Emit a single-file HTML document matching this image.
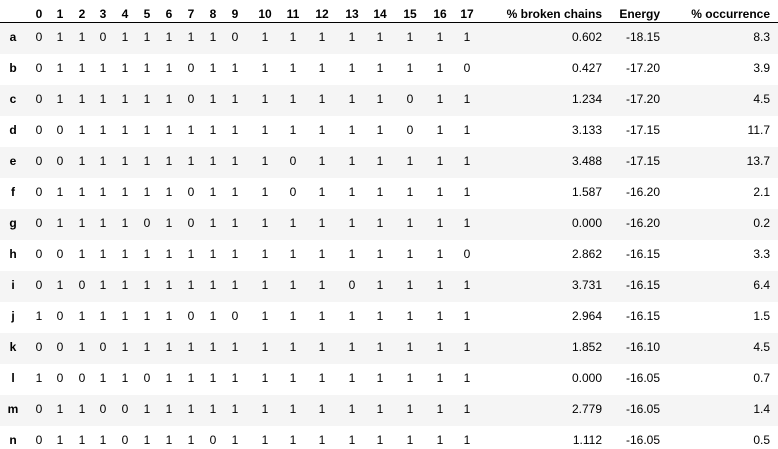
<!DOCTYPE html>
<html><head><meta charset="utf-8">
<style>
html,body{margin:0;padding:0;background:#fff;}
#tbl{position:relative;width:778px;height:449px;overflow:hidden;font-family:"Liberation Sans",Arial,sans-serif;font-size:12px;color:#000;}
.c{position:absolute;white-space:nowrap;line-height:14px;}
.h{font-weight:bold;}
.stripe{position:absolute;left:0;width:778px;height:31px;background:#f5f5f5;}
.rule{position:absolute;left:0;top:22px;width:778px;height:1px;background:#000;}
</style></head>
<body>
<div id="tbl">
<div class="rule"></div>
</div>
<script>
const rowLabels=["a","b","c","d","e","f","g","h","i","j","k","l","m","n"];
const bits=[
"011011111011111111","011111101111111110","011111101111111011","001111111111111011",
"001111111110111111","011111101110111111","011110101111111111","001111111111111110",
"010111111111101111","101111101011111111","001011111111111111","100110111111111111",
"011001111111111111","011101110111111111"];
const broken=["0.602","0.427","1.234","3.133","3.488","1.587","0.000","2.862","3.731","2.964","1.852","0.000","2.779","1.112"];
const energy=["-18.15","-17.20","-17.20","-17.15","-17.15","-16.20","-16.20","-16.15","-16.15","-16.15","-16.10","-16.05","-16.05","-16.05"];
const occur=["8.3","3.9","4.5","11.7","13.7","2.1","0.2","3.3","6.4","1.5","4.5","0.7","1.4","0.5"];
const colCenters=[39,60,82,103,125,147,169,191,213,235,265,293,322,352,380,410,440,467];
const tbl=document.getElementById('tbl');
function cell(txt,x,top,align,bold,name){
  const d=document.createElement('div');
  d.className='c'+(bold?' h':'');
  d.textContent=txt;
  d.style.top=top+'px';
  if(align==='center'){d.style.left=(x-30)+'px';d.style.width='60px';d.style.textAlign='center';}
  else if(align==='right'){d.style.right=(778-x)+'px';d.style.textAlign='right';}
  else {d.style.left=x+'px';}
  
  
  tbl.appendChild(d);
}
for(let i=0;i<rowLabels.length;i++){
  if(i%2===0){
    const s=document.createElement('div');
    s.className='stripe';s.style.top=(23+31*i)+'px';
    
    
    tbl.appendChild(s);
  }
}
for(let j=0;j<18;j++) cell(String(j),colCenters[j],7,'center',true,'col-header-'+j);
cell('% broken chains',602,7,'right',true,'col-header-broken-chains');
cell('Energy',660,7,'right',true,'col-header-energy');
cell('% occurrence',770,7,'right',true,'col-header-occurrence');
for(let i=0;i<rowLabels.length;i++){
  const top=30+31*i;
  cell(rowLabels[i],13,top,'center',true,'row-label-'+rowLabels[i]);
  for(let j=0;j<18;j++) cell(bits[i][j],colCenters[j],top,'center',false,'bit-cell');
  cell(broken[i],602,top,'right',false,'broken-chains-cell');
  cell(energy[i],660,top,'right',false,'energy-cell');
  cell(occur[i],770,top,'right',false,'occurrence-cell');
}
</script>
</body></html>
